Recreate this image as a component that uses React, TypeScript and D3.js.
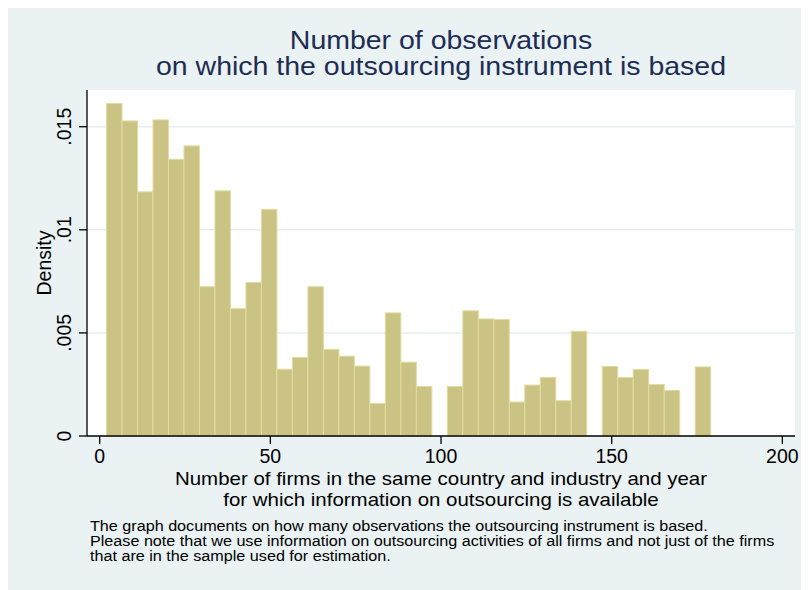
import React, { useEffect, useRef } from "react";
import * as d3 from "d3";

// histogram of obs counts, 39 bins from 2 to 179
const binLow = 2;
const binHigh = 179;
const density = [
  0.01613, 0.01528, 0.01184, 0.01533, 0.01342, 0.01407, 0.00724, 0.01189,
  0.00618, 0.00745, 0.01099, 0.00324, 0.00381, 0.00724, 0.0042, 0.00387,
  0.00339, 0.00158, 0.00597, 0.00358, 0.0024, 0, 0.0024, 0.00607, 0.00568,
  0.00565, 0.00165, 0.00247, 0.00284, 0.00171, 0.00508, 0, 0.00337, 0.00284,
  0.00323, 0.0025, 0.00221, 0, 0.00335,
];

const xTicks = [0, 50, 100, 150, 200];
const yTicks = [0, 0.005, 0.01, 0.015];
const yTickLabels = ["0", ".005", ".01", ".015"];

const titleLines = [
  "Number of observations",
  "on which the outsourcing instrument is based",
];
const xTitleLines = [
  "Number of firms in the same country and industry and year",
  "for which information on outsourcing is available",
];
const noteLines = [
  "The graph documents on how many observations the outsourcing instrument is based.",
  "Please note that we use information on outsourcing activities of all firms and not just of the firms",
  "that are in the sample used for estimation.",
];

const W = 801;
const H = 582;
const plot = { left: 79, right: 787, top: 82, bottom: 428 };
const font = "'Liberation Sans', Arial, sans-serif";
const stretch = 1.1; // stata text comes out a bit wide

export default function App() {
  const ref = useRef<SVGSVGElement>(null);

  useEffect(() => {
    const svg = d3.select(ref.current);
    svg.selectAll("*").remove();

    const x = d3.scaleLinear().domain([-3.72, 203.7]).range([plot.left, plot.right]);
    const y = d3.scaleLinear().domain([0, 0.01678]).range([plot.bottom, plot.top]);
    const bw = (binHigh - binLow) / density.length;
    const bins = density
      .map((d, i) => ({ x0: binLow + i * bw, x1: binLow + (i + 1) * bw, d }))
      .filter((b) => b.d > 0);

    svg.append("rect").attr("width", W).attr("height", H).attr("fill", "#eaf2f3");
    svg
      .append("rect")
      .attr("x", plot.left)
      .attr("y", plot.top)
      .attr("width", plot.right - plot.left)
      .attr("height", plot.bottom - plot.top)
      .attr("fill", "#ffffff");

    // grid
    svg
      .selectAll("line.grid")
      .data(yTicks.filter((d) => d > 0))
      .enter()
      .append("line")
      .attr("x1", plot.left)
      .attr("x2", plot.right)
      .attr("y1", (d) => y(d))
      .attr("y2", (d) => y(d))
      .attr("stroke", "#e6eef1")
      .attr("stroke-width", 1.5);

    // bars
    svg
      .selectAll("rect.bar")
      .data(bins)
      .enter()
      .append("rect")
      .attr("x", (b) => x(b.x0))
      .attr("y", (b) => y(b.d))
      .attr("width", (b) => x(b.x1) - x(b.x0))
      .attr("height", (b) => y(0) - y(b.d))
      .attr("fill", "#cbc383")
      .attr("stroke", "#e2dca2")
      .attr("stroke-width", 1);

    // axes
    svg
      .append("line")
      .attr("x1", plot.left)
      .attr("x2", plot.left)
      .attr("y1", plot.top)
      .attr("y2", plot.bottom)
      .attr("stroke", "#000")
      .attr("stroke-width", 1.3);
    svg
      .append("line")
      .attr("x1", plot.left)
      .attr("x2", plot.right)
      .attr("y1", plot.bottom)
      .attr("y2", plot.bottom)
      .attr("stroke", "#000")
      .attr("stroke-width", 1.3);

    svg
      .selectAll("line.xt")
      .data(xTicks)
      .enter()
      .append("line")
      .attr("x1", (d) => x(d))
      .attr("x2", (d) => x(d))
      .attr("y1", plot.bottom)
      .attr("y2", plot.bottom + 8)
      .attr("stroke", "#000")
      .attr("stroke-width", 1.3);
    svg
      .selectAll("text.xt")
      .data(xTicks)
      .enter()
      .append("text")
      .attr("x", (d) => x(d))
      .attr("y", plot.bottom + 27)
      .attr("text-anchor", "middle")
      .attr("font-family", font)
      .attr("font-size", 19.5)
      .text((d) => String(d));

    svg
      .selectAll("line.yt")
      .data(yTicks)
      .enter()
      .append("line")
      .attr("x1", plot.left - 8)
      .attr("x2", plot.left)
      .attr("y1", (d) => y(d))
      .attr("y2", (d) => y(d))
      .attr("stroke", "#000")
      .attr("stroke-width", 1.3);
    svg
      .selectAll("text.yt")
      .data(yTicks)
      .enter()
      .append("text")
      .attr("transform", (d) => `translate(${plot.left - 16},${y(d)}) rotate(-90)`)
      .attr("text-anchor", "middle")
      .attr("font-family", font)
      .attr("font-size", 19.5)
      .text((d, i) => yTickLabels[i]);

    // axis titles
    svg
      .append("text")
      .attr("transform", `translate(43,${(plot.top + plot.bottom) / 2}) rotate(-90)`)
      .attr("text-anchor", "middle")
      .attr("font-family", font)
      .attr("font-size", 19.5)
      .text("Density");

    const cx = (plot.left + plot.right) / 2;
    svg
      .selectAll("text.xtitle")
      .data(xTitleLines)
      .enter()
      .append("text")
      .attr("transform", (d, i) => `translate(${cx},${477.3 + i * 20.2}) scale(${stretch},1)`)
      .attr("text-anchor", "middle")
      .attr("font-family", font)
      .attr("font-size", 18.6)
      .text((d) => d);

    svg
      .selectAll("text.title")
      .data(titleLines)
      .enter()
      .append("text")
      .attr("transform", (d, i) => `translate(${cx},${41.3 + i * 25.7}) scale(${stretch},1)`)
      .attr("text-anchor", "middle")
      .attr("font-family", font)
      .attr("font-size", 25.9)
      .attr("fill", "#1e2d53")
      .text((d) => d);

    svg
      .selectAll("text.note")
      .data(noteLines)
      .enter()
      .append("text")
      .attr("transform", (d, i) => `translate(82,${522.7 + i * 15}) scale(${stretch},1)`)
      .attr("font-family", font)
      .attr("font-size", 14.7)
      .text((d) => d);
  }, []);

  return <svg ref={ref} width={W} height={H} style={{ display: "block" }} />;
}
